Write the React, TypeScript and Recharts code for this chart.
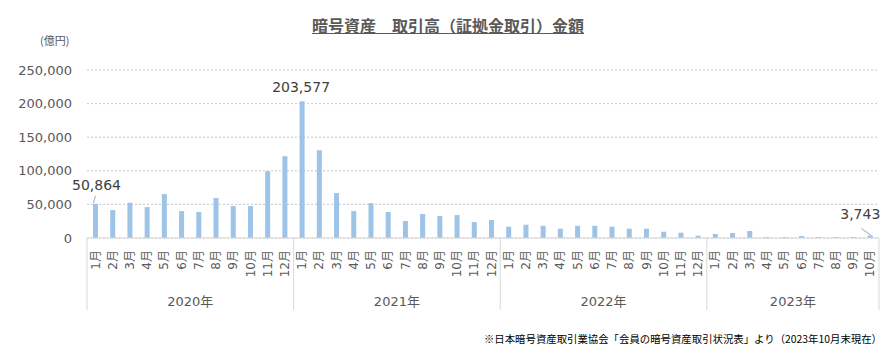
import React from 'react';
import { BarChart, Bar, XAxis, YAxis, CartesianGrid } from 'recharts';

const years = ['2020年', '2021年', '2022年', '2023年'];
const monthNames = ['1月', '2月', '3月', '4月', '5月', '6月', '7月', '8月', '9月', '10月', '11月', '12月'];

// 億円
const values2020 = [50864, 41500, 52500, 46000, 65300, 40000, 38600, 59400, 47500, 47500, 99400, 121700];
const values2021 = [203577, 130600, 66800, 40000, 51900, 38600, 25200, 35600, 32600, 34100, 23700, 26700];
const values2022 = [16800, 19700, 18200, 13800, 18200, 18200, 16800, 13800, 13800, 9300, 7900, 3400];
const values2023 = [6000, 7400, 10400, 1500, 1500, 3000, 1500, 1500, 1500, 3743];

const yTicks = [0, 50000, 100000, 150000, 200000, 250000];
const labeledIndexes = [0, 12, 45];

const series = [values2020, values2021, values2022, values2023];
const data = series.flatMap((vals, yi) =>
  vals.map((v, mi) => ({ month: monthNames[mi], year: years[yi], value: v }))
);
const total = data.length;

// first index of every year group
const starts: number[] = [0];
series.forEach((vals) => starts.push(starts[starts.length - 1] + vals.length));

const FONT = "'DejaVu Sans', 'Noto Sans CJK JP', sans-serif";
const TXT = '#595959';
const fmt = (v: number) => v.toLocaleString('en-US');

const labelPos: Record<number, { dx: number; dy: number; line?: [number, number, number, number] }> = {
  0: { dx: 1, dy: -14, line: [0, -8, -2, -1] },
  12: { dx: -1, dy: -9 },
  45: { dx: -10, dy: -16, line: [-9, -7, 1, 0] },
};

const MonthTick = (props: any) => {
  const { x, y, payload, index } = props;
  const half = payload.offset || 792 / total / 2;
  const axisY = y - 8;
  const gi = starts.indexOf(index);
  return (
    <g>
      <text
        transform={`translate(${x},${axisY + 12}) rotate(-90)`}
        textAnchor="end"
        dominantBaseline="central"
        fontSize={12}
        fontFamily={FONT}
        fill={TXT}
      >
        {payload.value}
      </text>
      {gi >= 0 && (
        <g>
          <line x1={x - half} y1={axisY} x2={x - half} y2={axisY + 72} stroke="#d9d9d9" />
          <text
            x={x - half + series[gi].length * half}
            y={axisY + 63}
            textAnchor="middle"
            dominantBaseline="central"
            fontSize={13}
            fontFamily={FONT}
            fill={TXT}
          >
            {years[gi]}
          </text>
        </g>
      )}
      {index === total - 1 && (
        <line x1={x + half} y1={axisY} x2={x + half} y2={axisY + 72} stroke="#d9d9d9" />
      )}
    </g>
  );
};

const ValueLabel = (props: any) => {
  const { x, y, width, index, value } = props;
  if (!labeledIndexes.includes(index)) return null;
  const cx = x + width / 2;
  const p = labelPos[index];
  return (
    <g>
      {p.line && (
        <line
          x1={cx + p.line[0]}
          y1={y + p.line[1]}
          x2={cx + p.line[2]}
          y2={y + p.line[3]}
          stroke="#a6a6a6"
          strokeWidth={1}
        />
      )}
      <text x={cx + p.dx} y={y + p.dy} textAnchor="middle" fontSize={14} fontFamily={FONT} fill="#404040">
        {fmt(value)}
      </text>
    </g>
  );
};

export default function App() {
  return (
    <div style={{ position: 'absolute', left: 0, top: 0, width: 896, height: 356, background: '#fff' }}>
      <div
        style={{
          position: 'absolute',
          left: 0,
          width: 896,
          top: 13,
          textAlign: 'center',
          fontFamily: "'Noto Sans CJK JP', sans-serif",
          fontWeight: 'bold',
          fontSize: 16,
          color: TXT,
          textDecoration: 'underline',
          lineHeight: '24px',
        }}
      >
        暗号資産　取引高（証拠金取引）金額
      </div>
      <div
        style={{
          position: 'absolute',
          left: 40,
          top: 32,
          fontFamily: "'Noto Sans CJK JP', sans-serif",
          fontSize: 11,
          color: TXT,
          lineHeight: '16px',
        }}
      >
        (億円)
      </div>
      <BarChart
        width={896}
        height={356}
        data={data}
        margin={{ top: 70, right: 17, left: 0, bottom: 38 }}
        barCategoryGap={0}
      >
        <CartesianGrid vertical={false} stroke="#c8c8c8" strokeDasharray="2 2" />
        <YAxis
          domain={[0, 250000]}
          ticks={yTicks}
          tickFormatter={fmt}
          width={87}
          axisLine={false}
          tickLine={false}
          tickSize={6}
          tickMargin={9}
          tick={{ fontSize: 13, fontFamily: FONT, fill: TXT }}
        />
        <XAxis
          dataKey="month"
          interval={0}
          height={80}
          tickLine={false}
          tickSize={6}
          tickMargin={2}
          axisLine={{ stroke: '#d9d9d9' }}
          tick={<MonthTick />}
        />
        <Bar dataKey="value" fill="#9dc3e6" barSize={5} isAnimationActive={false} label={<ValueLabel />} />
      </BarChart>
      <div
        style={{
          position: 'absolute',
          right: 14,
          top: 331,
          fontFamily: "'Noto Sans CJK JP', sans-serif",
          fontSize: 10.4,
          color: '#000',
          lineHeight: '16px',
          whiteSpace: 'nowrap',
        }}
      >
        ※日本暗号資産取引業協会「会員の暗号資産取引状況表」より（2023年10月末現在）
      </div>
    </div>
  );
}
